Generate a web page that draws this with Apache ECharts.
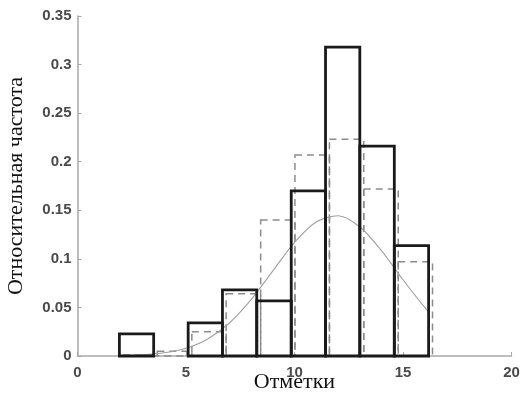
<!DOCTYPE html>
<html>
<head>
<meta charset="utf-8">
<script src="https://cdn.jsdelivr.net/npm/echarts@6/dist/echarts.min.js"></script>
<style>html,body{margin:0;padding:0;background:#fff;}#c{width:524px;height:395px;}</style>
</head>
<body>
<div id="c"></div>
<script>
// Observed histogram (relative frequency)
const solidEdges = [1.93, 3.51, 5.10, 6.68, 8.26, 9.85, 11.43, 13.01, 14.60, 16.18];
const solidFreq = [0.0227, 0, 0.034, 0.068, 0.0568, 0.170, 0.318, 0.216, 0.1136];
// Expected (dashed) histogram
const expEdges = [2.10, 3.68, 5.27, 6.85, 8.44, 10.02, 11.61, 13.19, 14.78, 16.36];
const expFreq = [0.001, 0.005, 0.025, 0.064, 0.140, 0.207, 0.223, 0.172, 0.097];
// Fitted curve
const curveX = [2, 3, 4, 5, 6, 7, 8, 9, 10, 11, 12, 13, 14, 15, 16, 16.2];
const curveY = [0.0004, 0.0012, 0.0033, 0.008, 0.0176, 0.034, 0.058, 0.0876, 0.117, 0.138, 0.1443, 0.133, 0.1087, 0.0785, 0.050, 0.045];
// Tick labels
const xTicks = [0, 5, 10, 15, 20];
const yTicks = [0, 0.05, 0.1, 0.15, 0.2, 0.25, 0.3, 0.35];

const solidData = solidFreq.map((v, i) => [solidEdges[i], solidEdges[i + 1], v]);
const expData = expFreq.map((v, i) => [expEdges[i], expEdges[i + 1], v]);
const curveData = curveX.map((x, i) => [x, curveY[i]]);

function rectRenderer(stroke, lw, dash) {
  return function (params, api) {
    const h = api.value(2);
    if (!h) return null;
    const p0 = api.coord([api.value(0), 0]);
    const p1 = api.coord([api.value(1), h]);
    return {
      type: 'rect',
      shape: { x: p0[0], y: p1[1], width: p1[0] - p0[0], height: p0[1] - p1[1] },
      style: { fill: 'none', stroke: stroke, lineWidth: lw, lineDash: dash }
    };
  };
}

const labelStyle = { color: '#4a4a4a', fontFamily: 'Liberation Sans', fontSize: 15, fontWeight: 'bold' };
const titleStyle = { fontFamily: 'Liberation Serif', fontSize: 22, color: '#111' };

const chart = echarts.init(document.getElementById('c'), null, { renderer: 'canvas' });
chart.setOption({
  animation: false,
  backgroundColor: '#fff',
  grid: { left: 77.5, right: 12.5, top: 16, bottom: 39, containLabel: false, outerBoundsMode: 'none' },
  xAxis: {
    type: 'value', min: 0, max: 20, interval: 5,
    name: 'Отметки', nameLocation: 'middle', nameGap: 15, nameMoveOverlap: false,
    nameTextStyle: titleStyle,
    axisLine: { show: true, lineStyle: { color: '#a8a8a8', width: 1.5 } },
    axisTick: { show: true, inside: true, length: 4, lineStyle: { color: '#a8a8a8' } },
    axisLabel: Object.assign({ margin: 9, formatter: v => xTicks.includes(v) ? String(v) : '' }, labelStyle),
    splitLine: { show: false }
  },
  yAxis: {
    type: 'value', min: 0, max: 0.35, interval: 0.05,
    name: 'Относительная частота', nameLocation: 'middle', nameGap: 50, nameMoveOverlap: false,
    nameTextStyle: titleStyle,
    axisLine: { show: true, lineStyle: { color: '#a8a8a8', width: 1.5 } },
    axisTick: { show: true, inside: true, length: 4, lineStyle: { color: '#a8a8a8' } },
    axisLabel: Object.assign({ margin: 6, formatter: v => { const t = yTicks.find(y => Math.abs(y - v) < 1e-9); return t === undefined ? '' : String(+t.toFixed(2)); } }, labelStyle),
    splitLine: { show: false }
  },
  series: [
    { type: 'custom', renderItem: rectRenderer('#8c8c8c', 1.5, [7, 5]), data: expData, encode: { x: [0, 1], y: 2 }, z: 2 },
    { type: 'line', data: curveData, smooth: 0.3, showSymbol: false, lineStyle: { color: '#a0a0a0', width: 1.1 }, z: 3 },
    { type: 'custom', renderItem: rectRenderer('#1a1a1a', 2.8, null), data: solidData, encode: { x: [0, 1], y: 2 }, z: 4 }
  ]
});
</script>
</body>
</html>
